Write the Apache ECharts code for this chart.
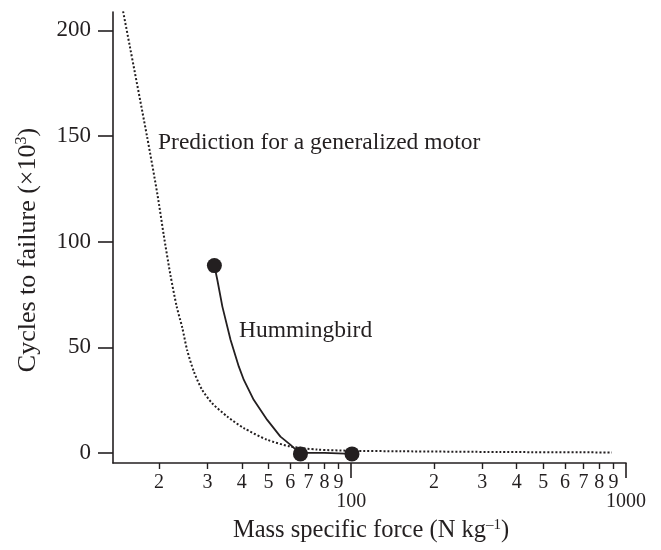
<!DOCTYPE html>
<html>
<head>
<meta charset="utf-8">
<script src="https://cdn.jsdelivr.net/npm/echarts@6/dist/echarts.min.js"></script>
<style>
  html, body { margin: 0; padding: 0; background: #fff; }
  #chart { width: 661px; height: 550px; }
</style>
</head>
<body>
<div id="chart"></div>
<script>
// Predicted fatigue curve for a generalized motor: [force, cycles ×10^3]
const predictionForce = [14.8, 18.1, 19.75, 20.8, 22.0, 23.2, 24.3, 25.3, 26.8, 28.7, 31.2, 35.4, 40.7, 49.5, 60.2, 75.2, 99.6, 151, 349, 889];
const predictionCycles = [209, 149.6, 122.1, 103.2, 84.3, 69.2, 59.3, 48.8, 38.4, 29.9, 23.6, 17.3, 11.8, 6.3, 3.1, 1.65, 1.1, 0.85, 0.5, 0.3];

// Hummingbird curve
const birdForce = [31.8, 32.6, 34.0, 36.4, 39.0, 40.7, 44.2, 49.5, 55.3, 60.2, 65.4, 68, 80, 81, 100.7];
const birdCycles = [88.7, 81.9, 69.3, 53.6, 41.0, 34.6, 25.2, 15.7, 7.8, 3.9, -0.4, 0.1, 0.1, -0.6, -0.4];

// Measured points on the hummingbird curve
const pointForce = [31.8, 65.4, 100.7];
const pointCycles = [88.7, -0.4, -0.4];

// Axis ticks
const yTicks = [0, 50, 100, 150, 200];
const xMinorTicks = [20, 30, 40, 50, 60, 70, 80, 90, 200, 300, 400, 500, 600, 700, 800, 900];
const xMajorTicks = [100, 1000];

const ink = '#231f20';
const serif = '"Liberation Serif", "Times New Roman", serif';

const zip = (a, b) => a.map((v, i) => [v, b[i]]);

const chart = echarts.init(document.getElementById('chart'), null, { renderer: 'canvas' });

const xBase = {
  type: 'log',
  logBase: 10,
  min: 13.6,
  max: 1000,
  gridIndex: 0,
  position: 'bottom',
  splitLine: { show: false },
  minorTick: { show: false }
};

chart.setOption({
  animation: false,
  backgroundColor: '#ffffff',
  grid: { left: 113, right: 35, top: 12, bottom: 87 },
  xAxis: [
    Object.assign({}, xBase, {
      axisLine: { show: true, onZero: false, lineStyle: { color: ink, width: 1.6 } },
      axisTick: { show: true, customValues: xMinorTicks, length: 6, lineStyle: { color: ink, width: 1.4 } },
      axisLabel: {
        show: true, customValues: xMinorTicks, margin: 10,
        color: ink, fontFamily: serif, fontSize: 20,
        formatter: v => String(Math.round(v / Math.pow(10, Math.floor(Math.log10(v) + 1e-9))))
      }
    }),
    Object.assign({}, xBase, {
      axisLine: { show: false, onZero: false },
      axisTick: { show: true, customValues: xMajorTicks, length: 15, lineStyle: { color: ink, width: 1.6 } },
      axisLabel: {
        show: true, customValues: xMajorTicks, margin: 29,
        color: ink, fontFamily: serif, fontSize: 20,
        formatter: v => String(Math.round(v))
      }
    })
  ],
  yAxis: {
    type: 'value',
    min: -4.7,
    max: 208.7,
    splitLine: { show: false },
    axisLine: { show: true, onZero: false, lineStyle: { color: ink, width: 1.6 } },
    axisTick: { show: true, customValues: yTicks, length: 15, lineStyle: { color: ink, width: 1.6 } },
    axisLabel: {
      show: true, customValues: yTicks, margin: 22,
      color: ink, fontFamily: serif, fontSize: 23
    }
  },
  series: [
    {
      name: 'Prediction for a generalized motor',
      type: 'line',
      xAxisIndex: 0,
      data: zip(predictionForce, predictionCycles),
      smooth: 0.25,
      showSymbol: false,
      symbol: 'none',
      lineStyle: { color: ink, width: 2, type: [2, 2] },
      z: 2
    },
    {
      name: 'Hummingbird',
      type: 'line',
      xAxisIndex: 0,
      data: zip(birdForce, birdCycles),
      smooth: false,
      showSymbol: false,
      symbol: 'none',
      lineStyle: { color: ink, width: 1.8 },
      z: 3
    },
    {
      name: 'Hummingbird points',
      type: 'scatter',
      xAxisIndex: 0,
      data: zip(pointForce, pointCycles),
      symbol: 'circle',
      symbolSize: 15,
      itemStyle: { color: ink, opacity: 1 },
      z: 4
    }
  ],
  graphic: [
    {
      type: 'text',
      left: 158, top: 131,
      style: { text: 'Prediction for a generalized motor', fill: ink, font: '23.5px ' + serif }
    },
    {
      type: 'text',
      left: 239, top: 319,
      style: { text: 'Hummingbird', fill: ink, font: '23.5px ' + serif }
    },
    {
      type: 'text',
      x: 28, y: 250,
      rotation: Math.PI / 2,
      style: {
        text: 'Cycles to failure (×10{sup|3})',
        align: 'center', verticalAlign: 'middle',
        fill: ink, font: '26px ' + serif,
        rich: { sup: { fontSize: 16, fontFamily: serif, fill: ink, padding: [0, 0, 12, 0] } }
      }
    },
    {
      type: 'text',
      x: 371, y: 531,
      style: {
        text: 'Mass specific force (N kg{sup|–1})',
        align: 'center', verticalAlign: 'middle',
        fill: ink, font: '24.5px ' + serif,
        rich: { sup: { fontSize: 15, fontFamily: serif, fill: ink, padding: [0, 0, 11, 0] } }
      }
    }
  ]
});
</script>
</body>
</html>
